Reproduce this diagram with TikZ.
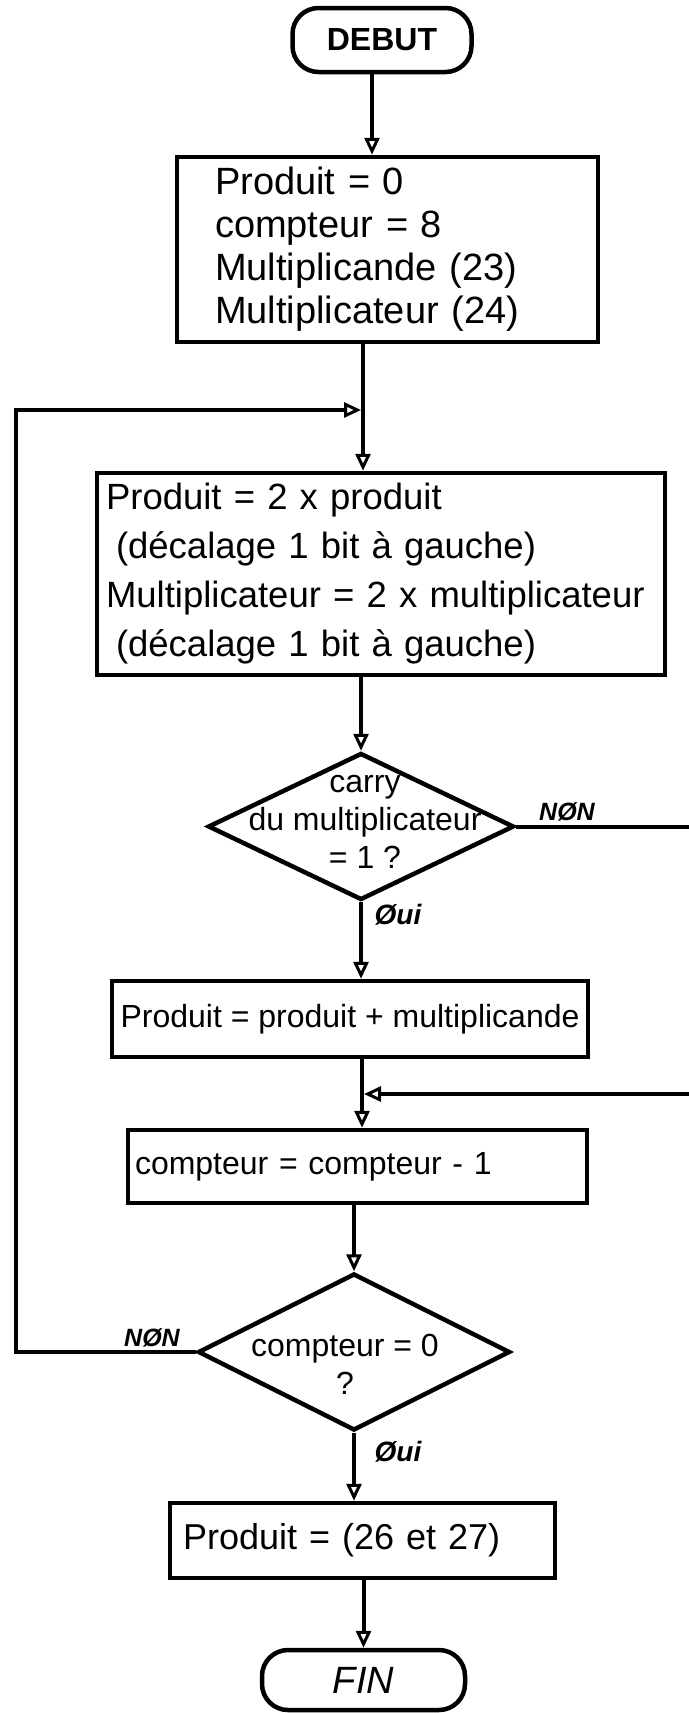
\documentclass[tikz,border=0pt]{standalone}
\usepackage{fontspec}
\setmainfont{Liberation Sans}
\usetikzlibrary{shapes.geometric,arrows.meta}
\begin{document}
\begin{tikzpicture}[x=1pt,y=-1pt,
  flow/.style={line width=4pt},
  arr/.style={line width=4pt,-{Triangle[open,length=17pt,width=15pt,line width=3pt]}},
  box/.style={draw,line width=4.5pt,rectangle,inner sep=0pt},
  term/.style={draw,line width=4.5pt,rectangle,rounded corners=26pt,inner sep=0pt},
  decision/.style={draw,line width=4.5pt,diamond,inner sep=0pt},
  lbl/.style={font=\fontsize{25}{27}\selectfont\bfseries\itshape,inner sep=0pt},
  txt32/.style={font=\fontsize{32}{38}\selectfont}
]
\useasboundingbox[fill=white] (0,0) rectangle (688,1713);

% nodes
\node[term,minimum width=179pt,minimum height=64pt,font=\fontsize{32}{36}\selectfont\bfseries] (debut) at (382,40) {DEBUT};
\node[box,minimum width=421pt,minimum height=185pt,text width=345pt,align=left,font=\fontsize{38}{43}\selectfont] (init) at (387.5,249.5)
  {Produit = 0\\compteur = 8\\Multiplicande (23)\\Multiplicateur (24)};
\node[box,minimum width=568pt,minimum height=202pt,text width=550pt,align=left,font=\fontsize{36.5}{49}\selectfont] (shift) at (381,574)
  {Produit = 2 x produit\\\hspace*{10pt}(décalage 1 bit à gauche)\\Multiplicateur = 2 x multiplicateur\\\hspace*{10pt}(décalage 1 bit à gauche)};
\node[decision,minimum width=306pt,minimum height=147pt] (carry) at (361,826.5) {};
\node[txt32,align=center,inner sep=0pt] (carrytxt) at (365,822) {carry\\du multiplicateur\\= 1 ?};
\node[box,minimum width=476pt,minimum height=76pt,txt32] (add) at (350,1019) {Produit = produit + multiplicande};
\node[box,minimum width=459pt,minimum height=73pt,text width=445pt,align=left,txt32] (dec) at (357.5,1166.5) {compteur = compteur - 1};
\node[decision,minimum width=312pt,minimum height=157pt] (zero) at (354,1352) {};
\node[txt32,align=center,inner sep=0pt] (zerotxt) at (345,1364) {compteur = 0\\?};
\node[box,minimum width=385pt,minimum height=75pt,text width=359pt,align=left,font=\fontsize{36}{40}\selectfont] (res) at (362.5,1540.5) {Produit = (26 et 27)};
\node[term,minimum width=203pt,minimum height=60pt,font=\fontsize{38}{40}\selectfont\itshape] (fin) at (363.5,1680) {FIN};

% labels
\node[lbl] (non1) at (567,812) {NØN};
\node[lbl,font=\fontsize{28}{30}\selectfont\bfseries\itshape] (oui1) at (398,915) {Øui};
\node[lbl] (non2) at (152,1338) {NØN};
\node[lbl,font=\fontsize{28}{30}\selectfont\bfseries\itshape] (oui2) at (398,1452) {Øui};

% junction coordinates
\coordinate (a0) at (372,110);
\coordinate (j1) at (363,410);
\coordinate (lx) at (16,410);
\coordinate (rx) at (700,1094);
\coordinate (j2) at (362,1094);

% connectors
\draw[arr] (debut.south -| a0) -- (init.north -| a0);
\draw[flow] (init.south -| j1) -- (j1);
\draw[arr] (j1) -- (shift.north -| j1);
\draw[arr] (shift.south -| carry.north) -- (carry.north);
\draw[arr] (carry.south) -- (carry.south |- add.north);
\draw[arr,shorten >=2pt] (carry.east) -| (rx) -- (j2);
\draw[flow] (add.south -| j2) -- (j2);
\draw[arr] (j2) -- (dec.north -| j2);
\draw[arr] (dec.south -| zero.north) -- (zero.north);
\draw[arr] (zero.south) -- (zero.south |- res.north);
\draw[arr] (res.south -| fin.north) -- (fin.north);
\draw[arr,shorten >=2pt] (zero.west) -| (lx) -- (j1);
\end{tikzpicture}
\end{document}
